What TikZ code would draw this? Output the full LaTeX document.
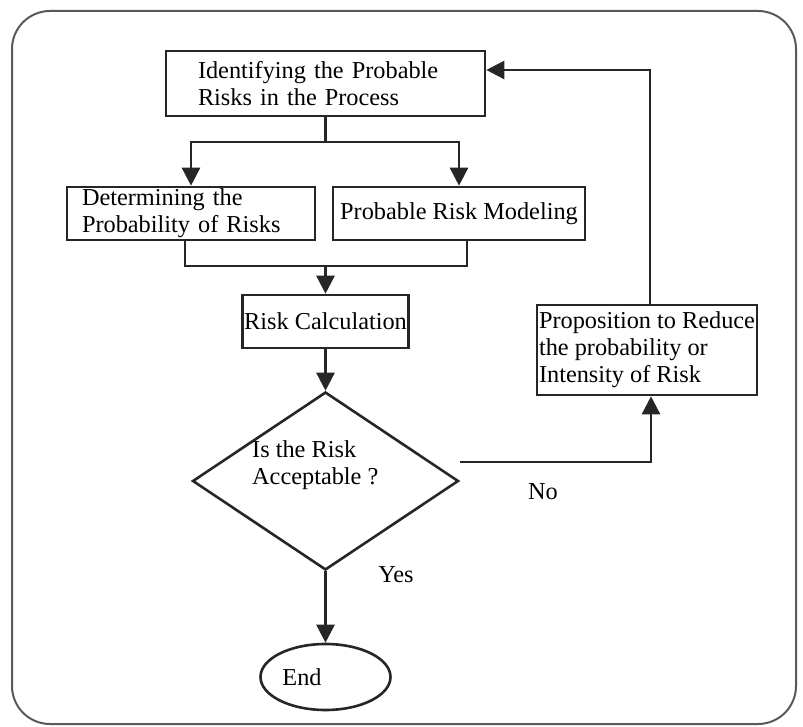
\documentclass[tikz,border=0pt]{standalone}
\usepackage{fontspec}
\setmainfont{Liberation Serif}
\usetikzlibrary{shapes.geometric,arrows.meta}
\begin{document}
\begin{tikzpicture}[x=1pt,y=-1pt,
  line/.style={line width=2.6pt, draw=black!85},
  txtfont/.style={font=\fontsize{24.3}{27}\selectfont},
  box/.style={line, rectangle, inner ysep=0pt, txtfont},
  arr/.style={line, -{Triangle[length=18pt,width=18pt]}},
  lbl/.style={txtfont, inner sep=0pt, text=black},
]
\useasboundingbox (0,0) rectangle (803,727);
\draw[line width=2pt, draw=black!65, rounded corners=38pt] (12,11) rectangle (796,724);

% boxes
\node[box, minimum width=319pt, minimum height=65pt, inner xsep=32pt, text width=255pt, align=left]
  (b1) at (325.5,83.5) {Identifying the Probable\\Risks in the Process};
\node[box, minimum width=248pt, minimum height=53pt, inner xsep=15pt, text width=218pt, align=left]
  (b2) at (191,213.5) {Determining the\\Probability of Risks};
\node[box, minimum width=252pt, minimum height=53pt, inner xsep=0pt]
  (b3) at (459,213.5) {Probable Risk Modeling};
\node[box, minimum width=166pt, minimum height=53pt, inner xsep=0pt]
  (b4) at (325.5,321.5) {Risk Calculation};
\node[box, minimum width=220pt, minimum height=90pt, inner xsep=0pt, align=left]
  (b5) at (647,350) {Proposition to Reduce\\the probability or\\Intensity of Risk};

% decision and end
\node[line, diamond, minimum width=266pt, minimum height=178pt, inner sep=0pt] (dec) at (325.5,481) {};
\node[lbl, anchor=north west, align=left] (dect) at (252,440.5) {Is the Risk\\Acceptable ?};
\node[line, ellipse, minimum width=130pt, minimum height=66pt, inner sep=0pt] (end) at (325.5,677) {};
\node[lbl] (endt) at (302,677) {End};

% labels
\node[lbl] (no) at (543,492) {No};
\node[lbl] (yes) at (396,575) {Yes};

% connectors
\coordinate (y1) at (0,142);
\coordinate (y2) at (0,266);
\draw[arr] (b1.south) -- (b1.south |- y1) -| (b2.north);
\draw[arr] (b1.south |- y1) -| (b3.north);
\draw[line] ([xshift=-6pt]b2.south) |- ([xshift=8pt]b3.south |- y2) -- ([xshift=8pt]b3.south);
\draw[arr] (b4.north |- y2) -- (b4.north);
\draw[arr] (b4.south) -- (dec.north);
\draw[arr] ([yshift=19pt]dec.east) -| ([xshift=4pt]b5.south);
\draw[arr] ([xshift=3pt]b5.north) |- ([yshift=13.5pt]b1.east);
\draw[arr] (dec.south) -- (end.north);
\end{tikzpicture}
\end{document}
